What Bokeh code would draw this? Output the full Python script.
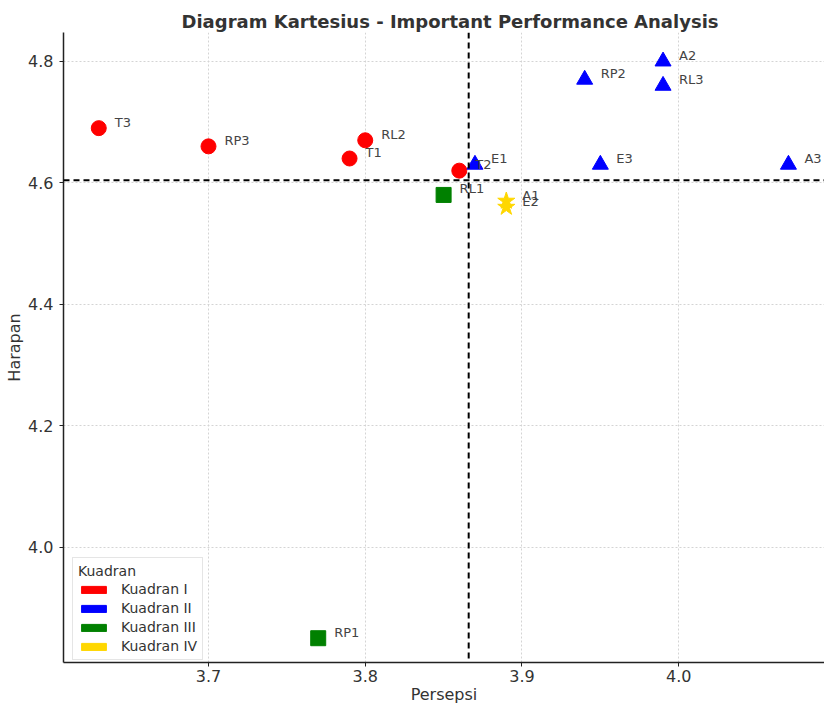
from bokeh.plotting import figure
from bokeh.models import Span, Legend, LegendItem, ColumnDataSource, FixedTicker
from bokeh.embed import file_html
from bokeh.resources import INLINE
from bokeh.core.properties import value

# ---- data ----
labels = ["T3", "RP3", "RL2", "T1", "T2", "E1", "E3", "A3", "RP2", "A2", "RL3", "RL1", "A1", "E2", "RP1"]
persepsi = [3.63, 3.70, 3.80, 3.79, 3.86, 3.87, 3.95, 4.07, 3.94, 3.99, 3.99, 3.85, 3.89, 3.89, 3.77]
harapan = [4.69, 4.66, 4.67, 4.64, 4.62, 4.63, 4.63, 4.63, 4.77, 4.80, 4.76, 4.58, 4.57, 4.56, 3.85]

quadrant_names = ["Kuadran I", "Kuadran II", "Kuadran III", "Kuadran IV"]
quadrant_colors = ["red", "blue", "green", "gold"]
quadrant_markers = ["circle", "triangle", "square", "star"]
quadrant_sizes = [15, 16, 15, 18]

x_ticks = [3.7, 3.8, 3.9, 4.0]
y_ticks = [4.0, 4.2, 4.4, 4.6, 4.8]

mean_x = sum(persepsi) / len(persepsi)
mean_y = sum(harapan) / len(harapan)

def quadrant(x, y):
    if x < mean_x and y >= mean_y:
        return 0
    if x >= mean_x and y >= mean_y:
        return 1
    if x < mean_x and y < mean_y:
        return 2
    return 3

quads = [quadrant(x, y) for x, y in zip(persepsi, harapan)]

FONT = "DejaVu Sans"
TXT = "#333333"
NAN = float("nan")

p = figure(width=824, height=706, output_backend="svg", toolbar_location=None,
           x_range=(3.6075, 4.093), y_range=(3.81, 4.8475),
           min_border_left=63, min_border_right=0, min_border_top=32, min_border_bottom=41,
           background_fill_color="white", border_fill_color="white")
p.outline_line_color = None

p.title.text = "Diagram Kartesius - Important Performance Analysis"
p.title.text_font = FONT
p.title.text_font_size = "18px"
p.title.text_font_style = "bold"
p.title.text_color = TXT
p.title.align = "left"
p.title.offset = 118
p.title.standoff = 2

for ax in (p.xaxis[0], p.yaxis[0]):
    ax.axis_line_color = "#222222"
    ax.axis_line_width = 1.5
    ax.major_tick_line_color = "#222222"
    ax.major_tick_line_width = 1
    ax.major_tick_in = 0
    ax.major_tick_out = 4
    ax.minor_tick_line_color = None
    ax.major_label_text_font = FONT
    ax.major_label_text_font_size = "16px"
    ax.major_label_text_color = TXT
    ax.axis_label_text_font = FONT
    ax.axis_label_text_font_size = "16px"
    ax.axis_label_text_font_style = "normal"
    ax.axis_label_text_color = TXT

p.xaxis.major_label_standoff = 3
p.yaxis.major_label_standoff = 6
p.xaxis.axis_label = "Persepsi"
p.xaxis.axis_label_standoff = 0
p.yaxis.axis_label = "Harapan"
p.yaxis.axis_label_standoff = 1

p.xaxis.ticker = FixedTicker(ticks=x_ticks)
p.yaxis.ticker = FixedTicker(ticks=y_ticks)
p.xaxis.major_label_overrides = {t: f"{t:.1f}" for t in x_ticks}
p.yaxis.major_label_overrides = {t: f"{t:.1f}" for t in y_ticks}

for g in (p.xgrid[0], p.ygrid[0]):
    g.grid_line_color = "#d4d4d4"
    g.grid_line_dash = "2 2"
    g.grid_line_width = 1

# mean lines
p.add_layout(Span(location=mean_x, dimension="height", line_color="black",
                  line_dash="6 4", line_width=2))
p.add_layout(Span(location=mean_y, dimension="width", line_color="black",
                  line_dash="6 4", line_width=2))

# points
for qi in range(4):
    xs = [x for x, q in zip(persepsi, quads) if q == qi]
    ys = [y for y, q in zip(harapan, quads) if q == qi]
    p.scatter(xs, ys, marker=quadrant_markers[qi], size=quadrant_sizes[qi],
              fill_color=quadrant_colors[qi], line_color=quadrant_colors[qi])

src = ColumnDataSource(dict(x=persepsi, y=harapan, t=labels))
p.text(x="x", y="y", text="t", source=src, x_offset=16, y_offset=-6,
       text_font=value(FONT), text_font_size="13px", text_color="#444444",
       text_baseline="alphabetic", text_align="left")

# legend with rectangle patches (renderers hold no drawable data)
items = []
for qi in range(4):
    r = p.quad(left=[NAN], right=[NAN], top=[NAN], bottom=[NAN],
               fill_color=quadrant_colors[qi], line_color=quadrant_colors[qi])
    items.append(LegendItem(label=quadrant_names[qi], renderers=[r]))

legend = Legend(items=items, location=(9, 2), title="Kuadran")
legend.title_text_font = FONT
legend.title_text_font_size = "14px"
legend.title_text_font_style = "normal"
legend.title_text_color = TXT
legend.title_standoff = 2
legend.label_text_font = FONT
legend.label_text_font_size = "14px"
legend.label_text_color = TXT
legend.glyph_width = 31
legend.glyph_height = 9
legend.label_height = 16
legend.label_standoff = 12
legend.spacing = 3
legend.padding = 5
legend.margin = 0
legend.border_line_color = "#cccccc"
legend.border_line_width = 1
legend.background_fill_alpha = 0.85
p.add_layout(legend)

open("out.html", "w").write(file_html(p, INLINE))
